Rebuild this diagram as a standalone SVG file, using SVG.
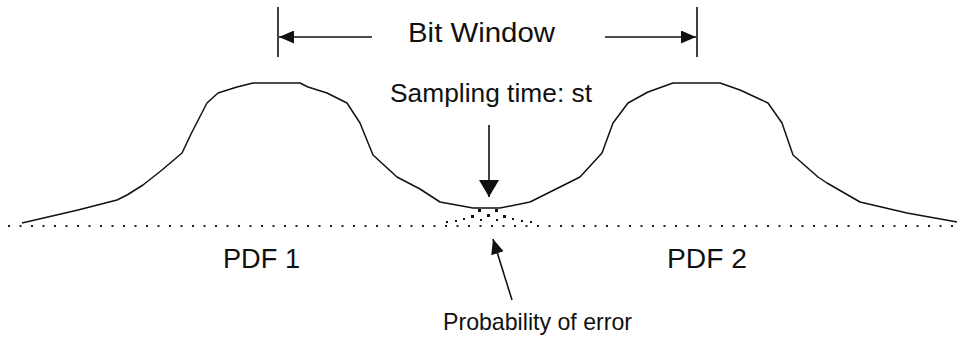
<svg xmlns="http://www.w3.org/2000/svg" width="960" height="338" viewBox="0 0 960 338">
  <style>
    .t { font-family: "Liberation Sans", Arial, sans-serif; fill: #111; }
    .ln { stroke: #111; stroke-width: 1.6; fill: none; }
    .curve { stroke: #111; stroke-width: 1.5; fill: none; stroke-linejoin: round; }
    .dots { stroke: #222; stroke-width: 2; stroke-dasharray: 2 9.5; fill: none; }
    .ah { fill: #111; }
  </style>
  <defs>
    <marker id="arrow" viewBox="0 0 10 10" refX="10" refY="5" markerWidth="15" markerHeight="13" markerUnits="userSpaceOnUse" orient="auto" preserveAspectRatio="none">
      <path d="M0,0 L10,5 L0,10 Z" class="ah"/>
    </marker>
    <marker id="arrow-big" viewBox="0 0 10 10" refX="10" refY="5" markerWidth="17" markerHeight="20" markerUnits="userSpaceOnUse" orient="auto" preserveAspectRatio="none">
      <path d="M0,0 L10,5 L0,10 Z" class="ah"/>
    </marker>
  </defs>
  <rect width="960" height="338" fill="#fff"/>

  <g id="baseline">
    <line class="dots" x1="8" y1="226" x2="956" y2="226"/>
  </g>

  <g id="pdf-curves">
    <polyline class="curve" points="22,223 78,210 117,200 127,195 143,185 162,170 182,153 192,132 207,103 218,93 237,87 253,83 300,83 308,87 327,93 347,103 360,123 373,155 397,177 420,189 440,202 473,208 500,208 530,202 558,188 580,177 602,153 613,123 628,103 648,92 673,83 720,83 740,90 768,103 782,123 793,155 818,177 827,183 860,202 907,213 957,222"/>
  </g>

  <g id="error-region" fill="#111">
    <rect x="478" y="209" width="3" height="3"/>
    <rect x="495" y="209" width="3" height="3"/>
    <rect x="471" y="215" width="3" height="3"/>
    <rect x="487" y="214" width="3" height="3"/>
    <rect x="503" y="215" width="3" height="3"/>
    <rect x="463" y="218" width="2" height="2"/>
    <rect x="480" y="219" width="2" height="2"/>
    <rect x="496" y="219" width="2" height="2"/>
    <rect x="512" y="218" width="2" height="2"/>
    <rect x="446" y="221" width="2" height="2"/>
    <rect x="455" y="220" width="2" height="2"/>
    <rect x="521" y="220" width="2" height="2"/>
    <rect x="530" y="221" width="2" height="2"/>
  </g>

  <g id="bit-window">
    <line class="ln" x1="278" y1="7" x2="278" y2="57"/>
    <line class="ln" x1="697" y1="7" x2="697" y2="57"/>
    <text class="t" x="408" y="42" font-size="27" textLength="147" lengthAdjust="spacingAndGlyphs">Bit Window</text>
  </g>

  <g id="labels">
    <text class="t" x="390" y="102" font-size="26" textLength="202" lengthAdjust="spacingAndGlyphs">Sampling time: st</text>
    <text class="t" x="223" y="268" font-size="27" textLength="77" lengthAdjust="spacingAndGlyphs">PDF 1</text>
    <text class="t" x="667" y="268" font-size="27" textLength="80" lengthAdjust="spacingAndGlyphs">PDF 2</text>
    <text class="t" x="443" y="330" font-size="24" textLength="189" lengthAdjust="spacingAndGlyphs">Probability of error</text>
  </g>

  <g id="connectors">
    <line class="ln" x1="372" y1="37" x2="279" y2="37" marker-end="url(#arrow)"/>
    <line class="ln" x1="605" y1="37" x2="696" y2="37" marker-end="url(#arrow)"/>
    <line class="ln" x1="489" y1="125" x2="489" y2="197" marker-end="url(#arrow-big)"/>
    <line class="ln" x1="512" y1="300" x2="493" y2="239" marker-end="url(#arrow)"/>
  </g>
</svg>
